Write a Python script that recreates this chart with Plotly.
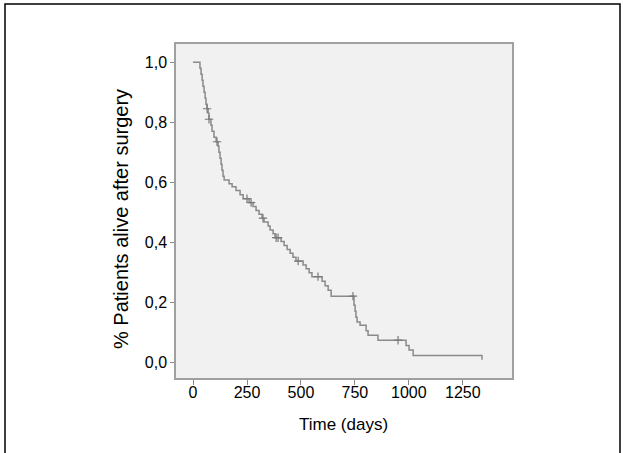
import plotly.graph_objects as go

# Kaplan-Meier step points (days, survival after the step)
km_days = [0, 32, 37, 42, 46, 51, 56, 60, 65, 70, 74, 83, 88, 97, 107, 116, 120, 125, 130, 134, 139,
           144, 167, 181, 199, 218, 232, 260, 278, 292, 306, 320, 329, 348, 357, 371, 380, 408, 422,
           436, 450, 463, 477, 510, 524, 538, 551, 598, 612, 626, 640, 746, 751, 755, 760, 774, 802,
           811, 857, 987, 1001, 1020, 1339]
km_surv = [1.0, 0.98, 0.96, 0.94, 0.92, 0.90, 0.88, 0.86, 0.845, 0.83, 0.81, 0.79, 0.77, 0.75, 0.735,
           0.72, 0.70, 0.68, 0.66, 0.64, 0.62,
           0.607, 0.595, 0.585, 0.572, 0.558, 0.545, 0.532, 0.519, 0.506, 0.493, 0.48, 0.467, 0.454,
           0.441, 0.428, 0.415, 0.402, 0.389, 0.376, 0.363, 0.35, 0.337, 0.324, 0.311, 0.298, 0.285,
           0.27, 0.255, 0.24, 0.22, 0.19, 0.17, 0.15, 0.134, 0.123, 0.105, 0.09, 0.073, 0.055, 0.04,
           0.022, 0.008]

# Censored observations
censor_days = [65, 74, 111, 250, 269, 324, 385, 394, 487, 579, 741, 950]
censor_surv = [0.845, 0.81, 0.735, 0.545, 0.532, 0.48, 0.415, 0.415, 0.337, 0.285, 0.22, 0.073]

x_ticks = [0, 250, 500, 750, 1000, 1250]
y_ticks = [0.0, 0.2, 0.4, 0.6, 0.8, 1.0]

x_title = "Time (days)"
y_title = "% Patients alive after surgery"

line_col = "#8a8a8a"
font_fam = "Liberation Sans, Arial, sans-serif"

fig = go.Figure()
fig.add_trace(go.Scatter(x=km_days, y=km_surv, mode="lines", line=dict(shape="hv", color=line_col, width=1.5),
                         showlegend=False, hoverinfo="skip"))
fig.add_trace(go.Scatter(x=censor_days, y=censor_surv, mode="markers",
                         marker=dict(symbol="cross-thin-open", size=6, color="#7a7a7a",
                                     line=dict(color="#7a7a7a", width=1.2)),
                         showlegend=False, hoverinfo="skip"))

W, H = 627, 453
L, R, T, B = 176, 115, 44, 75
pw, ph = W - L - R, H - T - B

def px(xp):
    return (xp - L) / pw

def py(yp):
    return (H - B - yp) / ph

fig.update_layout(
    width=W, height=H,
    margin=dict(l=L, r=R, t=T, b=B),
    paper_bgcolor="white",
    plot_bgcolor="#f1f1f1",
    separators=",.",
    font=dict(family=font_fam, color="black", size=16),
    xaxis=dict(range=[-79, 1478], tickvals=x_ticks, ticks="outside", ticklen=5, tickcolor="#888888",
               ticklabelstandoff=-6,
               showgrid=False, zeroline=False, showline=True, linecolor="#a0a0a0", linewidth=1.5, mirror=True,
               tickfont=dict(size=16, family=font_fam, color="black")),
    yaxis=dict(range=[-0.053, 1.061], tickvals=y_ticks, tickformat=".1f", ticks="outside", ticklen=4,
               tickcolor="#888888",
               showgrid=False, zeroline=False, showline=True, linecolor="#a0a0a0", linewidth=1.5, mirror=True,
               tickfont=dict(size=16, family=font_fam, color="black")),
    annotations=[
        dict(text=x_title, xref="paper", yref="paper", x=px(343), y=py(424), showarrow=False,
             xanchor="center", yanchor="middle", font=dict(size=17, family=font_fam, color="black")),
        dict(text=y_title, xref="paper", yref="paper", x=px(121), y=py(219), showarrow=False,
             textangle=-90, xanchor="center", yanchor="middle",
             font=dict(size=20, family=font_fam, color="black")),
    ],
    shapes=[dict(type="rect", xref="paper", yref="paper",
                 x0=px(5), x1=px(620), y0=py(470), y1=py(4),
                 line=dict(color="black", width=1.5), fillcolor="rgba(0,0,0,0)", layer="above")],
)

fig.write_html("out.html", config={"displayModeBar": False},
               post_script="document.body.style.margin='0px';document.body.style.padding='0px';")
